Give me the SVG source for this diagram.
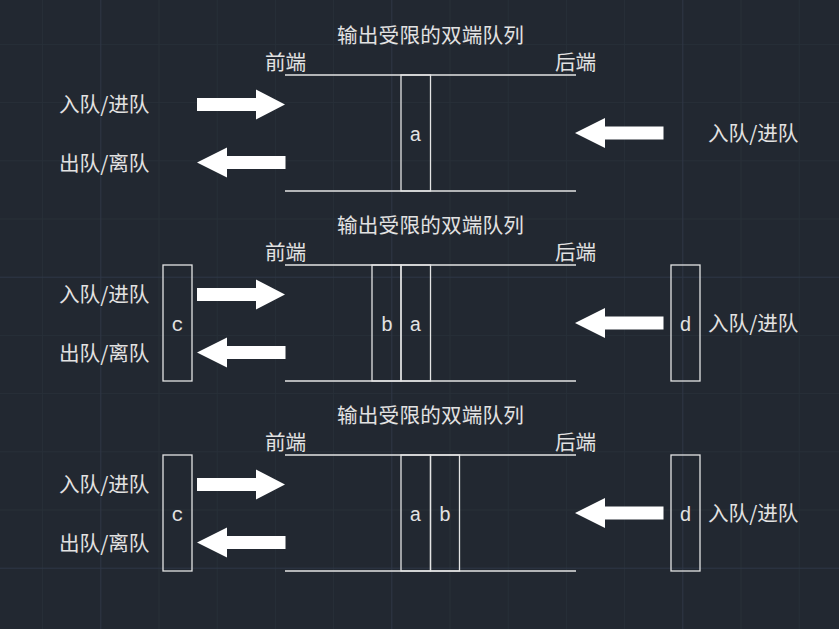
<svg xmlns="http://www.w3.org/2000/svg" xmlns:xlink="http://www.w3.org/1999/xlink" width="839" height="629" viewBox="0 0 839 629">
<style>
.bg{fill:#222831}
.gm{stroke:#283039;stroke-width:1;fill:none}
.gM{stroke:#2f3747;stroke-width:1;fill:none}
.ln{stroke:#e4e4e4;stroke-width:1.3;fill:none}
.bx{stroke:#e4e4e4;stroke-width:1.3;fill:none}
.cj{font-family:"Noto Sans CJK SC","Noto Sans",sans-serif;font-size:20.6px;fill:#e2e2e2}
.tt{font-family:"Noto Sans CJK SC","Noto Sans",sans-serif;font-size:20.6px;fill:#e2e2e2}
.lt{font-family:"Liberation Mono","DejaVu Sans Mono",monospace;font-size:20px;fill:#e2e2e2;text-anchor:middle}
.ar{fill:#ffffff}
</style>
<defs>
<polygon id="arR" class="ar" points="197,98 256,98 256,89.5 285,104.5 256,119.5 256,111 197,111"/>
<polygon id="arL" class="ar" points="197,162.5 227,147.5 227,156 285.5,156 285.5,169 227,169 227,177.5"/>
<polygon id="arB" class="ar" points="575,133 605,118 605,126.5 663.5,126.5 663.5,139.5 605,139.5 605,148"/>
</defs>
<rect class="bg" x="0" y="0" width="839" height="629"/>
<g id="grid">
<path class="gm" d="M42.6 0V629M159 0V629M217.2 0V629M275.4 0V629M333.6 0V629M450 0V629M508.2 0V629M566.4 0V629M624.6 0V629M741 0V629M799.2 0V629"/>
<path class="gm" d="M0 44.4H839M0 102.6H839M0 160.8H839M0 219H839M0 335.4H839M0 393.6H839M0 451.8H839M0 510H839"/>
<path class="gM" d="M100.8 0V629M391.8 0V629M682.8 0V629M0 277.2H839M0 568.2H839"/>
</g>

<g id="panel1">
<text class="tt" x="337" y="43" letter-spacing="0.2">输出受限的双端队列</text>
<text class="cj" x="265" y="70">前端</text>
<text class="cj" x="555" y="70">后端</text>
<line class="ln" x1="285" y1="75" x2="576" y2="75"/>
<line class="ln" x1="285" y1="191" x2="576" y2="191"/>
<text class="cj" x="59" y="111.5">入队/进队</text>
<text class="cj" x="59" y="170.5">出队/离队</text>
<text class="cj" x="708" y="140.5">入队/进队</text>
</g>
<g id="node-a1">
<rect class="bx" x="401" y="75" width="29.5" height="116"/>
<text class="lt" x="415.5" y="141">a</text>
</g>

<g id="panel2">
<text class="tt" x="337" y="233" letter-spacing="0.2">输出受限的双端队列</text>
<text class="cj" x="265" y="260">前端</text>
<text class="cj" x="555" y="260">后端</text>
<line class="ln" x1="285" y1="265" x2="576" y2="265"/>
<line class="ln" x1="285" y1="381" x2="576" y2="381"/>
<text class="cj" x="59" y="301.5">入队/进队</text>
<text class="cj" x="59" y="360.5">出队/离队</text>
<text class="cj" x="708" y="330.5">入队/进队</text>
</g>
<g id="node-b2">
<rect class="bx" x="372" y="265" width="29" height="116"/>
<text class="lt" x="387" y="331">b</text>
</g>
<g id="node-a2">
<rect class="bx" x="401" y="265" width="29.5" height="116"/>
<text class="lt" x="415.5" y="331">a</text>
</g>
<g id="node-c2">
<rect class="bx" x="163" y="265" width="29" height="116"/>
<text class="lt" x="177.5" y="331">c</text>
</g>
<g id="node-d2">
<rect class="bx" x="671" y="265" width="29" height="116"/>
<text class="lt" x="685.5" y="331">d</text>
</g>

<g id="panel3">
<text class="tt" x="337" y="423" letter-spacing="0.2">输出受限的双端队列</text>
<text class="cj" x="265" y="450">前端</text>
<text class="cj" x="555" y="450">后端</text>
<line class="ln" x1="285" y1="455" x2="576" y2="455"/>
<line class="ln" x1="285" y1="571" x2="576" y2="571"/>
<text class="cj" x="59" y="491.5">入队/进队</text>
<text class="cj" x="59" y="550.5">出队/离队</text>
<text class="cj" x="708" y="520.5">入队/进队</text>
</g>
<g id="node-a3">
<rect class="bx" x="401" y="455" width="29.5" height="116"/>
<text class="lt" x="415.5" y="521">a</text>
</g>
<g id="node-b3">
<rect class="bx" x="430.5" y="455" width="29" height="116"/>
<text class="lt" x="445" y="521">b</text>
</g>
<g id="node-c3">
<rect class="bx" x="163" y="455" width="29" height="116"/>
<text class="lt" x="177.5" y="521">c</text>
</g>
<g id="node-d3">
<rect class="bx" x="671" y="455" width="29" height="116"/>
<text class="lt" x="685.5" y="521">d</text>
</g>

<g id="connectors">
<use href="#arR"/>
<use href="#arL"/>
<use href="#arB"/>
<use href="#arR" transform="translate(0,190)"/>
<use href="#arL" transform="translate(0,190)"/>
<use href="#arB" transform="translate(0,190)"/>
<use href="#arR" transform="translate(0,380)"/>
<use href="#arL" transform="translate(0,380)"/>
<use href="#arB" transform="translate(0,380)"/>
</g>
</svg>
